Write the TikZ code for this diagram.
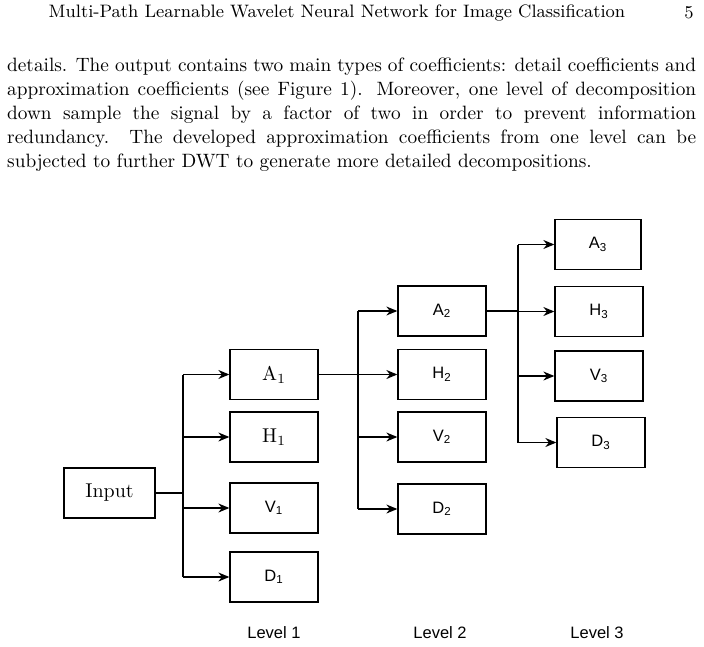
\documentclass[tikz,border=0pt]{standalone}
\usepackage{fontspec}
\newfontfamily\sansf{Liberation Sans}
\usetikzlibrary{arrows.meta}

\newcommand{\sv}[1]{\scalebox{1.65}{\sansf #1}}
\newcommand{\rv}[1]{\scalebox{2}{#1}}

\begin{document}
\begin{tikzpicture}[x=1pt,y=-1pt,
    box/.style={draw,line width=1.3pt,minimum width=88pt,minimum height=50pt,inner sep=0pt},
    arr/.style={-{Stealth[length=11pt,width=9pt]},line width=1.3pt}]
    \useasboundingbox (0,0) rectangle (704,647);

    % page text
    \node (head) at (337,13) {\rv{\fontsize{9}{11}\selectfont Multi-Path Learnable Wavelet Neural Network for Image Classification}};
    \node (page) at (689,13) {\rv{\fontsize{9}{11}\selectfont 5}};
    \node[anchor=north west,inner sep=0pt] (para) at (7,58)
        {\scalebox{1.93}{\parbox{357pt}{\fontsize{10}{12.4}\selectfont\noindent details. The output contains two main types of coefficients: detail coefficients and\linebreak approximation coefficients (see Figure 1). Moreover, one level of decomposition\linebreak down sample the signal by a factor of two in order to prevent information\linebreak redundancy. The developed approximation coefficients from one level can be\linebreak subjected to further DWT to generate more detailed decompositions.}}};

    % boxes
    \node[box,minimum width=91pt] (in) at (109.5,493) {\rv{Input}};

    \node[box] (a1) at (274,374.5) {\rv{A$_1$}};
    \node[box] (h1) at (274,437) {\rv{H$_1$}};
    \node[box] (v1) at (274,508) {\sv{V\textsubscript{1}}};
    \node[box] (d1) at (274,577) {\sv{D\textsubscript{1}}};

    \node[box] (a2) at (442,311) {\sv{A\textsubscript{2}}};
    \node[box] (h2) at (442,374.5) {\sv{H\textsubscript{2}}};
    \node[box] (v2) at (442,437) {\sv{V\textsubscript{2}}};
    \node[box] (d2) at (442,509) {\sv{D\textsubscript{2}}};

    \node[box,minimum width=86pt] (a3) at (598,244.5) {\sv{A\textsubscript{3}}};
    \node[box] (h3) at (599,311.5) {\sv{H\textsubscript{3}}};
    \node[box] (v3) at (599,376) {\sv{V\textsubscript{3}}};
    \node[box] (d3) at (601,442.5) {\sv{D\textsubscript{3}}};

    \node (l1) at (274,633) {\sv{Level 1}};
    \node (l2) at (440,633) {\sv{Level 2}};
    \node (l3) at (597,633) {\sv{Level 3}};

    % connectors
    \coordinate (s1) at (183,493);
    \coordinate (s2) at (358,374.5);
    \coordinate (s3) at (518,311);
    \draw[line width=1.3pt] (in.east) -- (s1);
    \draw[line width=1.3pt] (a1.east) -- (s2);
    \draw[line width=1.3pt] (a2.east) -- (s3);
    \foreach \t in {a1,h1,v1,d1}
        \draw[arr] (s1 |- \t.west) -- (\t.west);
    \draw[line width=1.3pt] (s1 |- a1.west) -- (s1 |- d1.west);
    \foreach \t in {a2,h2,v2,d2}
        \draw[arr] (s2 |- \t.west) -- (\t.west);
    \draw[line width=1.3pt] (s2 |- a2.west) -- (s2 |- d2.west);
    \foreach \t in {a3,h3,v3,d3}
        \draw[arr] (s3 |- \t.west) -- (\t.west);
    \draw[line width=1.3pt] (s3 |- a3.west) -- (s3 |- d3.west);
\end{tikzpicture}
\end{document}
